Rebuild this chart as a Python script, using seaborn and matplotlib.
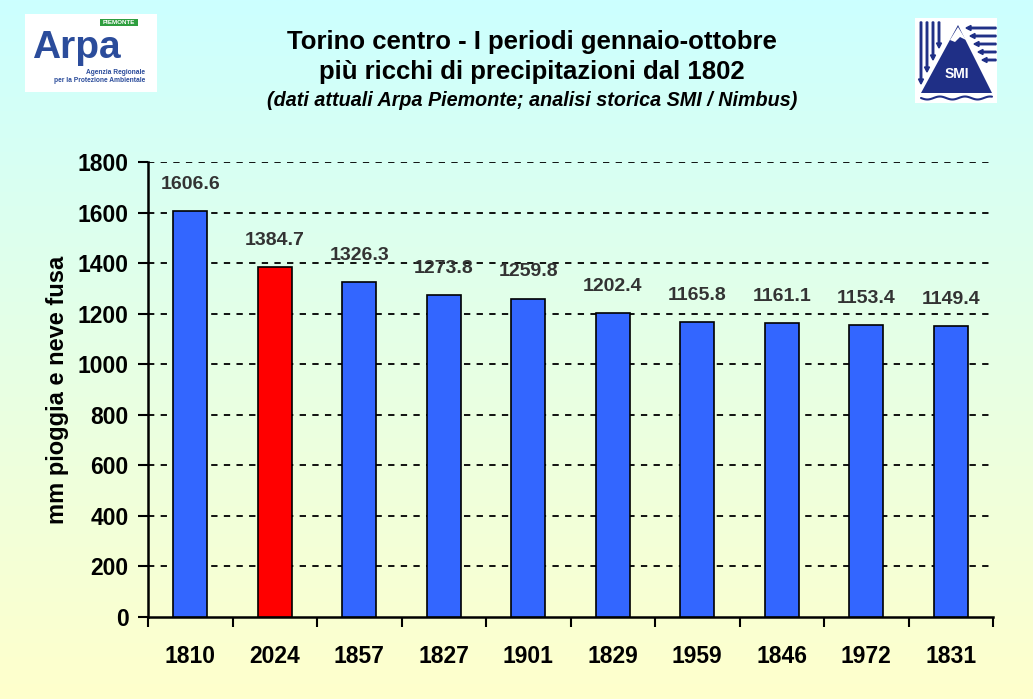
import numpy as np
import pandas as pd
import matplotlib
matplotlib.use("Agg")
import matplotlib.pyplot as plt
from matplotlib.patches import Rectangle, Polygon, FancyArrow
import seaborn as sns

years = ["1810", "2024", "1857", "1827", "1901", "1829", "1959", "1846", "1972", "1831"]
values = [1606.6, 1384.7, 1326.3, 1273.8, 1259.8, 1202.4, 1165.8, 1161.1, 1153.4, 1149.4]
bar_colors = ["#3366FF", "#FF0000"] + ["#3366FF"] * 8
yticks = [0, 200, 400, 600, 800, 1000, 1200, 1400, 1600, 1800]

sns.set_theme(style="white")
plt.rcParams["font.family"] = ["Liberation Sans", "DejaVu Sans"]

W, H = 1033, 699
fig = plt.figure(figsize=(W / 100, H / 100), dpi=100)

# gradient background
bg = fig.add_axes([0, 0, 1, 1], zorder=-10)
top = np.array([0.80, 1.0, 1.0])
bot = np.array([1.0, 1.0, 0.80])
t = np.linspace(0, 1, 256)[:, None]
grad = top[None, :] * (1 - t) + bot[None, :] * t
bg.imshow(grad[:, None, :].repeat(2, axis=1), aspect="auto", extent=[0, 1, 0, 1])
bg.set_axis_off()

ax = fig.add_axes([148 / W, 1 - 617 / H, (993 - 148) / W, (617 - 162) / H])
ax.patch.set_alpha(0)
df = pd.DataFrame({"year": years, "mm": values})
sns.barplot(data=df, x="year", y="mm", hue="year", palette=bar_colors, legend=False,
            width=0.4, edgecolor="black", linewidth=1.2, saturation=1, ax=ax, zorder=3)
ax.set_ylim(0, 1800)
ax.set_xlim(-0.5, len(years) - 0.5)
ax.set_yticks(yticks)
ax.set_yticklabels([str(v) for v in yticks], fontsize=16.5, fontweight="bold", color="black")
ax.set_xticks(range(len(years)))
ax.set_xticklabels(years, fontsize=16.5, fontweight="bold", color="black")
ax.tick_params(axis="x", length=0, pad=20)
ax.set_xticks(np.arange(-0.5, len(years) - 0.5 + 0.01, 1), minor=True)
ax.tick_params(axis="x", which="minor", length=7, width=1.5, direction="out", color="black", bottom=True)
ax.tick_params(axis="y", length=7, width=1.5, direction="out", color="black", left=True, pad=7)
for y in yticks[1:]:
    ax.axhline(y, color="black", linestyle=(0, (3.5, 3.5)), linewidth=1.3, zorder=1)
for s in ["top", "right"]:
    ax.spines[s].set_visible(False)
for s in ["left", "bottom"]:
    ax.spines[s].set_color("black")
    ax.spines[s].set_linewidth(1.8)
ax.set_xlabel("")
ax.set_ylabel("mm pioggia e neve fusa", fontsize=17, fontweight="bold", color="black", labelpad=6)
for i, v in enumerate(values):
    ax.annotate(f"{v:.1f}", (i, v), xytext=(0, 13), textcoords="offset points",
                ha="center", va="bottom", fontsize=14, fontweight="bold", color="#333333")

# titles
fig.text(532 / W, 1 - 42 / H, "Torino centro - I periodi gennaio-ottobre", ha="center", va="center",
         fontsize=18.5, fontweight="bold", color="black")
fig.text(532 / W, 1 - 72 / H, "più ricchi di precipitazioni dal 1802", ha="center", va="center",
         fontsize=18.5, fontweight="bold", color="black")
fig.text(532 / W, 1 - 101 / H, "(dati attuali Arpa Piemonte; analisi storica SMI / Nimbus)", ha="center",
         va="center", fontsize=14.2, fontweight="bold", style="italic", color="black")

# logos (pixel coordinate overlay)
lg = fig.add_axes([0, 0, 1, 1], zorder=5)
lg.set_xlim(0, W)
lg.set_ylim(H, 0)
lg.set_axis_off()
lg.patch.set_alpha(0)
lg.add_patch(Rectangle((25, 14), 132, 78, facecolor="white", edgecolor="none"))
lg.text(32, 48, "Arpa", fontsize=28, fontweight="bold", color="#2B4C9B", va="center", ha="left")
lg.add_patch(Rectangle((100, 19), 38, 7, facecolor="#2E9E3E", edgecolor="none"))
lg.text(119, 22.5, "PIEMONTE", fontsize=4.5, fontweight="bold", color="white", ha="center", va="center")
lg.text(145, 73, "Agenzia Regionale", fontsize=4.8, fontweight="bold", color="#2B4C9B", ha="right", va="center")
lg.text(145, 80, "per la Protezione Ambientale", fontsize=4.8, fontweight="bold", color="#2B4C9B",
        ha="right", va="center")

lg.add_patch(Rectangle((915, 18), 82, 85, facecolor="white", edgecolor="none"))
navy = "#1F2F86"
lg.add_patch(Polygon([[921, 93], [958, 25], [992, 93]], closed=True, facecolor=navy, edgecolor="none"))
lg.add_patch(Polygon([[950, 40], [958, 27], [966, 40], [960, 37], [955, 42]], closed=True,
                     facecolor="white", edgecolor="none"))
lg.text(957, 74, "SMI", fontsize=10, fontweight="bold", color="white", ha="center", va="center")
for k, x in enumerate([921, 927, 933, 939]):
    lg.add_patch(FancyArrow(x, 22, 0, 62 - k * 12, width=1.5, head_width=5, head_length=5,
                            color=navy, length_includes_head=True))
for k, y in enumerate([28, 36, 44, 52, 60]):
    lg.add_patch(FancyArrow(996, y, -(30 - k * 4), 0, width=1.5, head_width=5, head_length=5,
                            color=navy, length_includes_head=True))
xs = np.linspace(921, 992, 60)
lg.plot(xs, 98 + 1.5 * np.sin((xs - 921) / 4), color=navy, lw=1.5)

fig.savefig("out.png", dpi=100)
